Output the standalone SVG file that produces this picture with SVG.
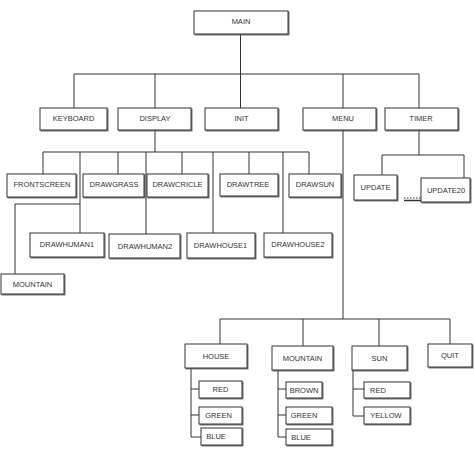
<svg xmlns="http://www.w3.org/2000/svg" width="474" height="451" viewBox="0 0 474 451">
<defs>
<filter id="sh" x="-10%" y="-10%" width="130%" height="150%">
<feDropShadow dx="1" dy="1" stdDeviation="0.4" flood-color="#555" flood-opacity="0.8"/>
</filter>
</defs>
<style>
rect{fill:#fff;stroke:#333;stroke-width:1;filter:url(#sh)}
text{font-family:"Liberation Sans",Arial,sans-serif;font-size:7.5px;fill:#333;text-anchor:middle;dominant-baseline:central}
.c path{fill:none;stroke:#333;stroke-width:1}
</style>
<rect x="0" y="0" width="474" height="451" style="fill:#fff;stroke:none;filter:none"/>
<g class="c" id="connectors">
<path d="M240.5 34V74M74 74H419M74 74V108M155 74V108M240.5 74V108M343 74V108M419 74V108"/>
<path d="M155 130V152M43 152H309M43 152V174M80 152V233M118 152V174M146 152V234M182 152V174M213 152V233M249 152V174M283 152V233M309 152V174"/>
<path d="M80 204H15V274"/>
<path d="M419 130V155M382 155H464M382 155V175M464 155V178"/>
<path d="M343 130V319M220 319H450M220 319V344M303 319V346M379 319V346M450 319V344"/>
<path d="M191 368V437M191 389H199M191 415H199M191 437H201"/>
<path d="M278 370V437M278 389H286M278 415H286M278 437H286"/>
<path d="M353 370V416M353 389H364M353 416H364"/>
<path d="M404 198H421" style="stroke-dasharray:1.5 1.5"/>
<path d="M404 200.5H421" style="stroke-width:1.5"/>
</g>
<g id="main"><rect x="194" y="11" width="94" height="23"/><text x="241" y="21">MAIN</text></g>
<g id="keyboard"><rect x="40" y="108" width="67" height="22"/><text x="73.5" y="118">KEYBOARD</text></g>
<g id="display"><rect x="118" y="108" width="73" height="22"/><text x="155" y="118">DISPLAY</text></g>
<g id="init"><rect x="205" y="108" width="73" height="22"/><text x="241.5" y="118">INIT</text></g>
<g id="menu"><rect x="303" y="108" width="73" height="22"/><text x="343" y="118">MENU</text></g>
<g id="timer"><rect x="385" y="108" width="73" height="22"/><text x="421" y="118">TIMER</text></g>
<g id="frontscreen"><rect x="7" y="174" width="69" height="23"/><text x="42" y="184">FRONTSCREEN</text></g>
<g id="drawgrass"><rect x="83" y="174" width="61" height="23"/><text x="114" y="184">DRAWGRASS</text></g>
<g id="drawcricle"><rect x="147" y="174" width="61" height="23"/><text x="177.5" y="184">DRAWCRICLE</text></g>
<g id="drawtree"><rect x="220" y="174" width="58" height="22"/><text x="248" y="184">DRAWTREE</text></g>
<g id="drawsun"><rect x="289" y="174" width="52" height="23"/><text x="315" y="184">DRAWSUN</text></g>
<g id="drawhuman1"><rect x="30" y="233" width="74" height="24"/><text x="67" y="244">DRAWHUMAN1</text></g>
<g id="drawhuman2"><rect x="109" y="234" width="71" height="24"/><text x="145" y="246">DRAWHUMAN2</text></g>
<g id="drawhouse1"><rect x="187" y="233" width="68" height="25"/><text x="220.5" y="245">DRAWHOUSE1</text></g>
<g id="drawhouse2"><rect x="264" y="233" width="68" height="24"/><text x="298" y="244">DRAWHOUSE2</text></g>
<g id="mountain1"><rect x="1" y="274" width="63" height="20"/><text x="32.5" y="284">MOUNTAIN</text></g>
<g id="update"><rect x="354" y="175" width="43" height="25"/><text x="375.5" y="187">UPDATE</text></g>
<g id="update20"><rect x="421" y="178" width="49" height="24"/><text x="446" y="190">UPDATE20</text></g>
<g id="house"><rect x="185" y="344" width="62" height="24"/><text x="216" y="356">HOUSE</text></g>
<g id="mountain2"><rect x="272" y="346" width="61" height="24"/><text x="302.5" y="358">MOUNTAIN</text></g>
<g id="sun"><rect x="352" y="346" width="55" height="24"/><text x="379.5" y="358">SUN</text></g>
<g id="quit"><rect x="428" y="344" width="44" height="23"/><text x="450" y="355">QUIT</text></g>
<g id="house-red"><rect x="199" y="381" width="43" height="17"/><text x="220.5" y="389.5">RED</text></g>
<g id="house-green"><rect x="199" y="407" width="43" height="17"/><text x="218.5" y="415.5">GREEN</text></g>
<g id="house-blue"><rect x="201" y="428" width="41" height="17"/><text x="216" y="436.5">BLUE</text></g>
<g id="mountain-brown"><rect x="286" y="382" width="36" height="16"/><text x="304" y="390">BROWN</text></g>
<g id="mountain-green"><rect x="286" y="407" width="46" height="17"/><text x="304" y="415.5">GREEN</text></g>
<g id="mountain-blue"><rect x="286" y="429" width="46" height="16"/><text x="301" y="437">BLUE</text></g>
<g id="sun-red"><rect x="364" y="382" width="46" height="16"/><text x="378" y="390">RED</text></g>
<g id="sun-yellow"><rect x="364" y="407" width="46" height="17"/><text x="386" y="415.5">YELLOW</text></g>
</svg>
